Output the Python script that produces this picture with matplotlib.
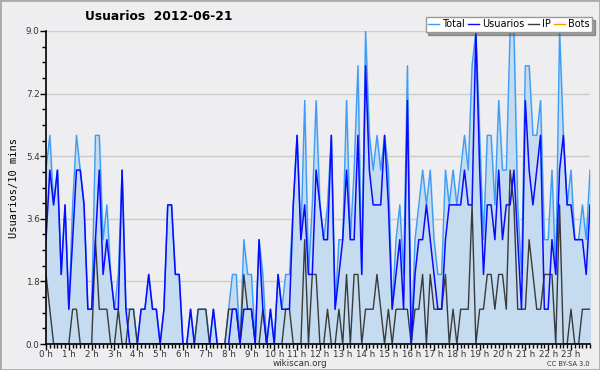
import numpy as np
import matplotlib.pyplot as plt
from matplotlib.patches import Rectangle

# one value every 10 minutes, 144 points for the day
total = [5, 6, 4, 5, 2, 4, 1, 4, 6, 5,
         4, 1, 1, 6, 6, 3, 4, 2, 1, 2,
         5, 1, 1, 1, 0, 1, 1, 2, 1, 1,
         0, 1, 4, 4, 2, 2, 0, 0, 1, 0,
         1, 1, 1, 0, 1, 0, 0, 0, 1, 2,
         2, 0, 3, 2, 2, 0, 3, 2, 0, 1,
         0, 2, 1, 2, 2, 4, 6, 3, 7, 2,
         4, 7, 4, 3, 4, 6, 1, 3, 3, 7,
         3, 5, 8, 2, 9, 6, 5, 6, 5, 6,
         5, 1, 3, 4, 2, 8, 0, 3, 4, 5,
         4, 5, 3, 2, 2, 5, 4, 5, 4, 5,
         6, 5, 8, 9, 6, 3, 6, 6, 4, 7,
         5, 5, 9, 9, 4, 2, 8, 8, 6, 6,
         7, 3, 3, 5, 2, 9, 6, 4, 5, 3,
         3, 4, 3, 5]

usuarios = [3, 5, 4, 5, 2, 4, 1, 3, 5, 5,
            4, 1, 1, 3, 5, 2, 3, 2, 1, 1,
            5, 1, 0, 0, 0, 1, 1, 2, 1, 1,
            0, 1, 4, 4, 2, 2, 0, 0, 1, 0,
            0, 0, 0, 0, 1, 0, 0, 0, 0, 1,
            1, 0, 1, 1, 1, 0, 3, 1, 0, 1,
            0, 2, 1, 1, 1, 4, 6, 3, 4, 2,
            2, 5, 4, 3, 3, 6, 1, 2, 3, 5,
            3, 3, 6, 2, 8, 5, 4, 4, 4, 6,
            4, 1, 2, 3, 1, 7, 0, 2, 3, 3,
            4, 3, 2, 1, 1, 3, 4, 4, 4, 4,
            5, 4, 4, 9, 5, 2, 4, 4, 3, 5,
            3, 4, 4, 5, 3, 1, 7, 5, 4, 5,
            6, 1, 1, 3, 2, 5, 6, 4, 4, 3,
            3, 3, 2, 4]

ip = [2, 1, 0, 0, 0, 0, 0, 1, 1, 0,
      0, 0, 0, 3, 1, 1, 1, 0, 0, 1,
      0, 0, 1, 1, 0, 0, 0, 0, 0, 0,
      0, 0, 0, 0, 0, 0, 0, 0, 0, 0,
      1, 1, 1, 0, 0, 0, 0, 0, 1, 1,
      1, 0, 2, 1, 1, 0, 0, 1, 0, 0,
      0, 0, 0, 1, 1, 0, 0, 0, 3, 0,
      2, 2, 0, 0, 1, 0, 0, 1, 0, 2,
      0, 2, 2, 0, 1, 1, 1, 2, 1, 0,
      1, 0, 1, 1, 1, 1, 0, 1, 1, 2,
      0, 2, 1, 1, 1, 2, 0, 1, 0, 1,
      1, 1, 4, 0, 1, 1, 2, 2, 1, 2,
      2, 1, 5, 4, 1, 1, 1, 3, 2, 1,
      1, 2, 2, 2, 0, 4, 0, 0, 1, 0,
      0, 1, 1, 1]

bots = [0] * 144

hour_labels = [f'{h} h' for h in range(24)]
y_ticks = [0.0, 1.8, 3.6, 5.4, 7.2, 9.0]

bg = '#eeeef0'
x = np.arange(len(total))

fig = plt.figure(figsize=(6, 3.7), dpi=100, facecolor=bg)
fig.patches.append(Rectangle((0, 0), 1, 1, transform=fig.transFigure,
                             fill=False, edgecolor='#aaaaaa', linewidth=2))
ax = fig.add_axes([46/600, 1 - 344/370, 544/600, 313/370])
ax.set_facecolor(bg)

ax.fill_between(x, total, 0, color='#c5dcf0', zorder=1)
ax.plot(x, bots, color='#ff9900', lw=1, zorder=0.5)
ax.plot(x, total, color='#3d9cf5', lw=1, zorder=2)
ax.plot(x, ip, color='#3a3a3a', lw=1, zorder=3)
ax.plot(x, usuarios, color='#0a0aff', lw=1.1, zorder=4)

ax.set_xlim(0, 143)
ax.set_ylim(0, 9)
ax.set_yticks(y_ticks)
ax.set_yticklabels([f'{v:.1f}' for v in y_ticks])
ax.set_yticks(np.arange(0, 9.01, 0.45), minor=True)
ax.set_xticks(np.arange(0, 144, 6))
ax.set_xticklabels(hour_labels)
ax.set_xticks(x, minor=True)
ax.grid(axis='y', color='#cccccc', lw=1, zorder=0)
ax.set_axisbelow(True)

for s in ['top', 'right']:
    ax.spines[s].set_visible(False)
ax.spines['left'].set_linewidth(1.2)
ax.spines['bottom'].set_linewidth(1.2)
ax.spines['left'].set_zorder(5)
ax.spines['bottom'].set_zorder(5)
ax.tick_params(axis='both', which='major', labelsize=6.3, length=4,
               width=1, color='black', labelcolor='#333333', pad=0.5)
ax.tick_params(axis='both', which='minor', length=3, width=1, color='black')

ax.set_ylabel('Usuarios/10 mins', fontsize=7.5, family='DejaVu Sans Mono', labelpad=5)

fig.text(85/600, 1 - 17/370, 'Usuarios  2012-06-21', fontsize=8.8, fontweight='bold',
         va='center', ha='left')
fig.text(300/600, 1 - 363/370, 'wikiscan.org', fontsize=6.3, ha='center', va='center',
         color='#333333')
fig.text(590/600, 1 - 364/370, 'CC BY-SA 3.0', fontsize=4.8, ha='right', va='center',
         color='#333333')

handles = [plt.Line2D([], [], color='#3d9cf5', lw=1),
           plt.Line2D([], [], color='#0a0aff', lw=1),
           plt.Line2D([], [], color='#3a3a3a', lw=1),
           plt.Line2D([], [], color='#ff9900', lw=1)]
leg = fig.legend(handles, ['Total', 'Usuarios', 'IP', 'Bots'], ncol=4,
                 loc='upper right', bbox_to_anchor=(592/600, 1 - 17/370),
                 fontsize=7, frameon=True, fancybox=False, shadow=True,
                 handlelength=1.1, handletextpad=0.3, columnspacing=0.4,
                 borderpad=0.25, borderaxespad=0)
leg.get_frame().set_edgecolor('#999999')
leg.get_frame().set_facecolor('white')

plt.savefig('out.png', dpi=100, facecolor=bg)
